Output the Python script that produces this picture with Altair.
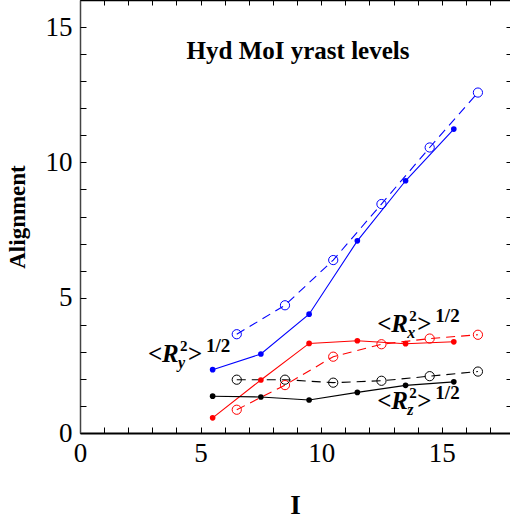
import altair as alt
import pandas as pd

# Spin values: filled points on half-integer spins 5.5..15.5, open points on 6.5..16.5
spin_solid = [5.5, 7.5, 9.5, 11.5, 13.5, 15.5]
spin_dashed = [6.5, 8.5, 10.5, 12.5, 14.5, 16.5]

# <R_y^2>^1/2, <R_x^2>^1/2, <R_z^2>^1/2 alignments
ry_solid = [2.34, 2.92, 4.39, 7.10, 9.32, 11.23]
ry_dashed = [3.65, 4.72, 6.39, 8.46, 10.55, 12.58]
rx_solid = [0.56, 1.96, 3.31, 3.41, 3.30, 3.37]
rx_dashed = [0.86, 1.77, 2.82, 3.28, 3.49, 3.63]
rz_solid = [1.36, 1.33, 1.22, 1.50, 1.76, 1.89]
rz_dashed = [1.97, 1.97, 1.86, 1.93, 2.10, 2.27]

series_names = ["y", "x", "z"]
series_colors = ["#0000ff", "#ff0000", "#000000"]

x_major = [0, 5, 10, 15]
y_major = [0, 5, 10, 15]
x_minor = list(range(0, 18))
y_minor = list(range(0, 17))

X_MAX = 17.83
Y_MAX = 16

rows = []
for name, sv, dv in zip(series_names,
                        [ry_solid, rx_solid, rz_solid],
                        [ry_dashed, rx_dashed, rz_dashed]):
    for i, v in zip(spin_solid, sv):
        rows.append({"I": i, "R": v, "comp": name, "kind": "solid"})
    for i, v in zip(spin_dashed, dv):
        rows.append({"I": i, "R": v, "comp": name, "kind": "dashed"})
df = pd.DataFrame(rows)

xs = alt.Scale(domain=[0, X_MAX], nice=False, zero=False)
ys = alt.Scale(domain=[0, Y_MAX], nice=False, zero=False)
color = alt.Color("comp:N", scale=alt.Scale(domain=series_names, range=series_colors), legend=None)

FONT = "Liberation Serif"

main_x_axis = alt.Axis(values=x_major, ticks=False, grid=False, labelFontSize=27, labelFont=FONT,
                       labelColor="black", labelPadding=7, domainColor="black", domainWidth=2,
                       title="I", titleFont=FONT, titleFontSize=27, titleFontWeight="bold",
                       titleColor="black", titlePadding=26, labelFlush=False)
main_y_axis = alt.Axis(values=y_major, ticks=False, grid=False, labelFontSize=27, labelFont=FONT,
                       labelColor="black", labelPadding=8, domainColor="#444444", domainWidth=1.5,
                       title="Alignment", titleFont=FONT, titleFontSize=23, titleFontWeight="bold",
                       titleColor="black", titlePadding=16, labelFlush=False)

solid = df[df.kind == "solid"]
dashed = df[df.kind == "dashed"]

solid_lines = alt.Chart(solid).mark_line(strokeWidth=1.1).encode(
    x=alt.X("I:Q", scale=xs, axis=main_x_axis),
    y=alt.Y("R:Q", scale=ys, axis=main_y_axis),
    color=color, detail="comp:N")
solid_pts = alt.Chart(solid).mark_point(filled=True, size=32, opacity=1).encode(
    x=alt.X("I:Q", scale=xs, axis=None), y=alt.Y("R:Q", scale=ys, axis=None), color=color)
dashed_lines = alt.Chart(dashed).mark_line(strokeWidth=1.1, strokeDash=[9, 6]).encode(
    x=alt.X("I:Q", scale=xs, axis=None), y=alt.Y("R:Q", scale=ys, axis=None),
    color=color, detail="comp:N")
dashed_pts = alt.Chart(dashed).mark_point(filled=False, size=85, strokeWidth=1, opacity=1).encode(
    x=alt.X("I:Q", scale=xs, axis=None), y=alt.Y("R:Q", scale=ys, axis=None), color=color)


def tick_axis(values, orient, size):
    # inward-pointing ticks: axis pulled inside the frame by its tick length
    return alt.Axis(values=values, orient=orient, offset=-size, tickSize=size, tickColor="black",
                    tickWidth=1, labels=False, domain=False, grid=False, title=None)


ticks_bl = alt.Chart(df).mark_point(opacity=0).encode(
    x=alt.X("I:Q", scale=xs, axis=tick_axis(x_minor, "bottom", 6)),
    y=alt.Y("R:Q", scale=ys, axis=tick_axis(y_minor, "left", 6)))
ticks_tr = alt.Chart(df).mark_point(opacity=0).encode(
    x=alt.X("I:Q", scale=xs, axis=tick_axis(x_minor, "top", 5)),
    y=alt.Y("R:Q", scale=ys, axis=tick_axis(y_minor, "right", 4)))
top_frame = alt.Chart(df).mark_point(opacity=0).encode(
    x=alt.X("I:Q", scale=xs, axis=alt.Axis(orient="top", ticks=False, labels=False, domain=True,
                                           domainColor="black", domainWidth=1.5, grid=False, title=None)),
    y=alt.Y("R:Q", scale=ys, axis=None))

# Title inside the frame
title_df = pd.DataFrame({"x": [9.04], "y": [13.82], "t": ["Hyd MoI yrast levels"]})
title = alt.Chart(title_df).mark_text(font=FONT, fontSize=25, fontWeight="bold", align="center",
                                      baseline="alphabetic", color="black").encode(
    x=alt.X("x:Q", scale=xs, axis=None), y=alt.Y("y:Q", scale=ys, axis=None), text="t:N")

# Component labels <R_k^2>^(1/2)
label_comp = ["y", "x", "z"]
label_x = [2.82, 12.33, 12.33]
label_y = [2.62, 3.74, 0.87]
lab_df = pd.DataFrame({"x": label_x, "y": label_y, "sub": label_comp})

pieces = [
    # text, dx, dy, size, style
    ("<", 0, 0, 25, "normal"),
    ("R", 14, 0, 25, "italic"),
    ("2", 32, -11, 15, "normal"),
    (None, 30, 6, 16, "italic"),
    (">", 40, 0, 25, "normal"),
    ("1/2", 58, -10, 19, "normal"),
]
label_layers = []
for txt, dx, dy, fs, style in pieces:
    enc_text = alt.Text("sub:N") if txt is None else alt.value(txt)
    label_layers.append(
        alt.Chart(lab_df).mark_text(font=FONT, fontSize=fs, fontWeight="bold", fontStyle=style,
                                    align="left", baseline="alphabetic", dx=dx, dy=dy,
                                    color="black").encode(
            x=alt.X("x:Q", scale=xs, axis=None), y=alt.Y("y:Q", scale=ys, axis=None), text=enc_text))

chart = alt.layer(
    solid_lines, dashed_lines, solid_pts, dashed_pts, ticks_bl, ticks_tr, top_frame, title, *label_layers
).resolve_axis(x="independent", y="independent").properties(
    width=430, height=433,
    autosize=alt.AutoSizeParams(type="none"),
    padding={"left": 80, "top": 0, "right": 0, "bottom": 89},
).configure_view(stroke=None).configure(font=FONT)

chart.save("out.html", embed_options={"renderer": "svg", "actions": False})
